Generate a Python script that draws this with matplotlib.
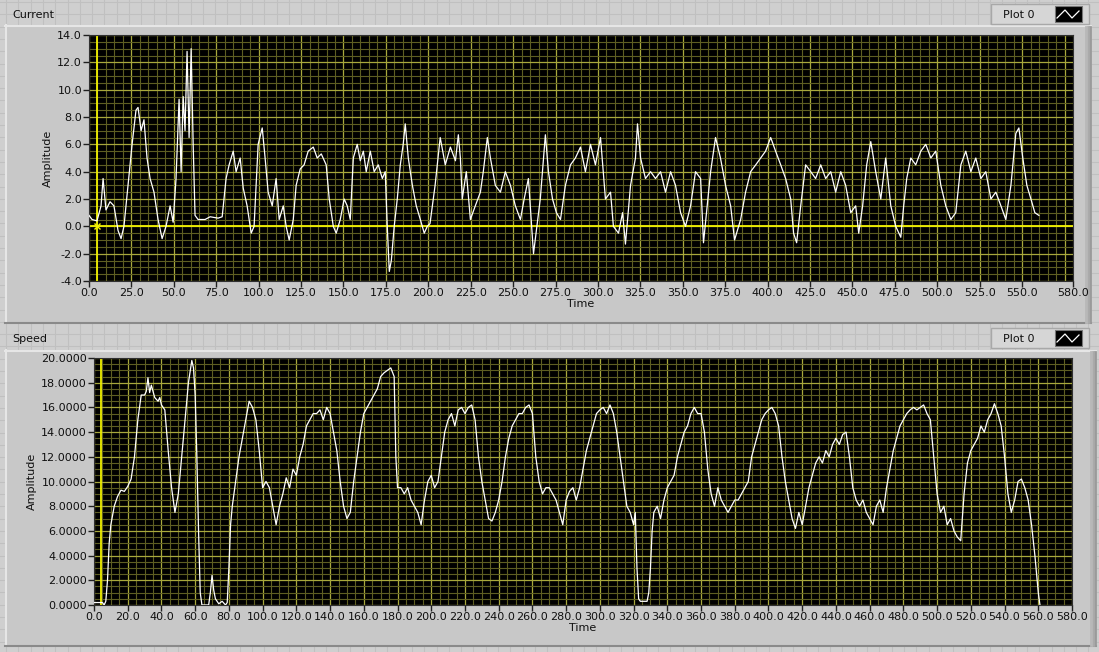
import matplotlib
matplotlib.use("Agg")
import matplotlib.pyplot as plt
import numpy as np
from matplotlib.patches import Rectangle
from matplotlib.ticker import FixedLocator, FormatStrFormatter, NullLocator

# ---------------- data ----------------
current_time = [0, 1.8, 4.7, 7.1, 8.3, 10, 12.4, 14.7, 17.1, 18.9, 20.6, 23, 25.4, 27.7, 28.9, 30.7, 32.4,
                34.2, 36, 38.3, 40.7, 43.1, 45.4, 47.8, 49.6, 51.3, 53.1, 54.3, 55.5, 56.6, 57.8, 59, 60.2,
                61.4, 62.5, 64.3, 68.4, 71.4, 76.1, 78.5, 80.8, 82.6, 85, 86.7, 89.1, 90.9, 93.2, 95.6, 97.3,
                99.7, 102.1, 103.8, 105.6, 108, 110.3, 112.1, 114.5, 116.2, 118, 120.4, 122.1, 124.5, 126.8,
                129.2, 132.2, 134.5, 136.9, 139.8, 141.6, 144, 145.7, 148.1, 150.4, 152.2, 154, 155.8, 158.1,
                159.9, 161.7, 163.4, 165.8, 168.1, 170.5, 172.9, 174.6, 175.8, 177, 178.2, 179.9, 181.7,
                183.5, 185.2, 186.4, 188.2, 190.6, 192.9, 195.3, 197.6, 199.4, 201, 204, 207, 210, 213, 216,
                217.7, 218.9, 220, 222.4, 224.8, 227.7, 230.7, 232.4, 234.8, 236.6, 239.5, 242.5, 245.4,
                248.4, 251.3, 254.3, 256.5, 259, 262, 266, 269, 270.8, 273.2, 275.5, 277.9, 280.8, 283.8,
                286.7, 289.7, 292.6, 295.6, 298.5, 301.5, 304.4, 307.4, 309.1, 312.1, 314.5, 316.2, 319.2,
                322.1, 323.3, 325.1, 328, 331, 333.9, 336.9, 339.8, 342.8, 345.7, 348.7, 351.6, 354.6, 357.5,
                360.5, 362.2, 366.4, 369.3, 372.2, 375.2, 378.2, 380.5, 384.1, 387, 390, 393, 395.9, 398.8,
                401.8, 404.7, 407.7, 410.6, 413.6, 415.3, 417.1, 419.5, 422.4, 425.4, 428.3, 431.3, 434.2,
                437.2, 440.1, 443.1, 446, 449, 451.9, 453.7, 456, 458.4, 460.8, 463.7, 466.7, 469.6, 472.6,
                475.5, 478.5, 480.2, 482, 484.4, 487.3, 490.3, 493.2, 496.2, 499.1, 502.1, 505, 508, 510.9,
                513.9, 516.8, 519.8, 522.7, 525.7, 528.6, 531.6, 534.5, 537.5, 540.4, 543.4, 546.3, 548.1,
                550.4, 552.8, 555.2, 557.5, 559.9]
current_amp = [0.8, 0.5, 0.4, 1.5, 3.5, 1.2, 1.8, 1.5, -0.3, -0.9, 0.0, 3.0, 6.0, 8.5, 8.7, 7.0, 7.8,
               5.0, 3.5, 2.5, 0.5, -0.9, 0.0, 1.5, 0.3, 3.5, 9.3, 4.0, 9.5, 7.0, 12.8, 6.5, 13.0,
               6.0, 0.8, 0.5, 0.5, 0.7, 0.6, 0.7, 3.5, 4.5, 5.5, 4.0, 5.0, 2.8, 1.5, -0.5, 0.0,
               6.0, 7.2, 5.0, 2.5, 1.5, 3.5, 0.5, 1.5, 0.0, -1.0, 0.5, 3.0, 4.2, 4.5,
               5.5, 5.8, 5.0, 5.3, 4.5, 2.0, 0.0, -0.5, 0.5, 2.0, 1.5, 0.5, 5.0, 6.0,
               4.8, 5.5, 4.0, 5.5, 4.0, 4.5, 3.5, 4.0, 0.0, -3.3, -2.5, 0.0, 2.0,
               4.5, 6.0, 7.5, 5.0, 3.0, 1.5, 0.5, -0.5, 0.0, 0.2, 3.0, 6.5, 4.5, 5.8, 4.8,
               6.7, 5.0, 2.0, 4.0, 0.5, 1.5, 2.5, 4.0, 6.5, 5.0, 3.0, 2.5, 4.0,
               3.0, 1.5, 0.5, 2.0, 3.5, -2.0, 2.0, 6.7, 4.0, 2.0, 1.0, 0.5, 3.0, 4.5,
               5.0, 5.8, 4.0, 6.0, 4.5, 6.5, 2.0, 2.5, 0.0, -0.5, 1.0, -1.3, 3.0,
               5.0, 7.5, 5.0, 3.5, 4.0, 3.5, 4.0, 2.5, 4.0, 3.0, 1.0, 0.0, 1.5, 4.0,
               3.5, -1.2, 4.0, 6.5, 5.0, 3.0, 1.5, -1.0, 0.5, 2.5, 4.0, 4.5, 5.0, 5.5,
               6.5, 5.5, 4.5, 3.5, 2.0, -0.5, -1.2, 1.5, 4.5, 4.0, 3.5, 4.5, 3.5,
               4.0, 2.5, 4.0, 3.0, 1.0, 1.5, -0.5, 1.5, 4.5, 6.2, 4.0, 2.0, 5.0, 1.5,
               0.0, -0.8, 1.5, 3.5, 5.0, 4.5, 5.5, 6.0, 5.0, 5.5, 3.0, 1.5, 0.5, 1.0,
               4.5, 5.5, 4.0, 5.0, 3.5, 4.0, 2.0, 2.5, 1.5, 0.5, 3.0, 6.8, 7.2,
               5.0, 3.0, 2.0, 1.0, 0.8]

speed_time = [0, 5, 6, 7, 8, 9, 10, 12, 14, 16, 18, 20, 22, 24, 26, 28, 30, 31, 32, 33, 34, 36, 38, 39, 40,
              42, 44, 46, 48, 50, 52, 54, 56, 58, 59, 60, 61, 62, 63, 64, 68, 69, 70, 71, 72, 74, 76, 78,
              79, 80, 81, 82, 84, 86, 88, 90, 92, 94, 96, 98, 100, 102, 104, 106, 108, 110, 112, 114,
              116, 118, 120, 122, 124, 126, 128, 130, 132, 134, 136, 138, 140, 142, 144, 146, 148, 150,
              152, 154, 156, 158, 160, 162, 164, 166, 168, 170, 172, 174, 176, 178, 179, 180, 182, 184,
              186, 188, 190, 192, 194, 196, 198, 200, 202, 204, 206, 208, 210, 212, 214, 216, 218, 220,
              222, 224, 226, 228, 230, 232, 234, 236, 238, 240, 242, 244, 246, 248, 250, 252, 254, 256,
              258, 260, 262, 264, 266, 268, 270, 272, 274, 276, 278, 280, 282, 284, 286, 288, 290, 292,
              294, 296, 298, 300, 302, 304, 306, 308, 310, 312, 314, 316, 318, 320, 321, 322, 323, 324,
              328, 329, 330, 331, 332, 334, 336, 338, 340, 342, 344, 346, 348, 350, 352, 354, 356, 358,
              360, 362, 364, 366, 368, 370, 372, 374, 376, 378, 380, 382, 384, 386, 388, 390, 392, 394,
              396, 398, 400, 402, 404, 406, 408, 410, 412, 414, 416, 418, 420, 422, 424, 426, 428, 430,
              432, 434, 436, 438, 440, 442, 444, 446, 448, 450, 452, 454, 456, 458, 460, 462, 464, 466,
              468, 470, 472, 474, 476, 478, 480, 482, 484, 486, 488, 490, 492, 494, 496, 498, 500, 502,
              504, 506, 508, 510, 512, 514, 516, 518, 520, 522, 524, 526, 528, 530, 532, 534, 536, 538,
              540, 542, 544, 546, 548, 550, 552, 554, 556, 558, 560, 561]
speed_amp = [0.2, 0.2, 0.0, 0.3, 2.0, 5.0, 6.5, 8.0, 8.8, 9.3, 9.2, 9.6, 10.2, 12.0, 15.0, 17.0, 17.0, 17.3,
             18.4, 17.2, 17.8, 16.8, 16.5, 16.8, 16.2,
             15.8, 12.5, 9.5, 7.5, 9.0, 12.0, 15.0, 18.0, 19.8, 19.2, 17.0, 12.0, 6.0, 1.0, 0.0, 0.0, 1.0,
             2.4, 1.2, 0.5, 0.1, 0.3, 0.0,
             0.2, 3.0, 6.5, 8.0, 10.0, 12.0, 13.5, 15.0, 16.5, 16.0, 15.0, 12.5, 9.5, 10.0, 9.5, 8.0, 6.5,
             8.0, 9.0, 10.3,
             9.5, 11.0, 10.5, 12.0, 13.0, 14.5, 15.0, 15.5, 15.5, 15.8, 15.0, 16.0, 15.5, 14.0, 12.5, 10.0,
             8.0, 7.0,
             7.5, 10.0, 12.0, 14.0, 15.5, 16.0, 16.5, 17.0, 17.5, 18.5, 18.8, 19.0, 19.2, 18.5, 12.0, 9.5,
             9.5, 9.0,
             9.5, 8.5, 8.0, 7.5, 6.5, 8.5, 10.0, 10.5, 9.5, 10.0, 12.0, 14.0, 15.0, 15.5, 14.5, 15.8, 16.0,
             15.5,
             16.0, 16.2, 15.0, 12.0, 10.0, 8.5, 7.0, 6.8, 7.5, 8.5, 10.0, 12.0, 13.5, 14.5, 15.0, 15.5,
             15.5, 16.0,
             16.2, 15.5, 12.0, 10.0, 9.0, 9.5, 9.5, 9.0, 8.5, 7.5, 6.5, 8.5, 9.2, 9.5, 8.5, 9.5, 11.0,
             12.5,
             13.5, 14.5, 15.5, 15.8, 16.0, 15.5, 16.2, 15.5, 14.0, 12.0, 10.0, 8.0, 7.5, 6.5, 7.5, 3.0,
             0.5, 0.3,
             0.3, 1.0, 3.0, 6.0, 7.5, 8.0, 7.0, 8.5, 9.5, 10.0, 10.5, 12.0, 13.0, 14.0, 14.5, 15.5, 16.0,
             15.5,
             15.5, 14.0, 11.0, 9.0, 8.0, 9.5, 8.5, 8.0, 7.5, 8.0, 8.5, 8.5, 9.0, 9.5, 10.0, 12.0, 13.0,
             14.0,
             15.0, 15.5, 15.8, 16.0, 15.5, 14.5, 12.0, 10.0, 8.5, 7.0, 6.2, 7.5, 6.5, 8.0, 9.5, 10.5, 11.5,
             12.0,
             11.5, 12.5, 12.0, 13.0, 13.5, 13.0, 13.8, 14.0, 12.0, 9.5, 8.5, 8.0, 8.5, 7.5, 7.0, 6.5, 8.0,
             8.5,
             7.5, 9.5, 11.0, 12.5, 13.5, 14.5, 15.0, 15.5, 15.8, 16.0, 15.8, 16.0, 16.2, 15.5, 15.0, 12.0,
             9.0, 7.5,
             8.0, 6.5, 7.0, 6.0, 5.5, 5.2, 9.0, 11.5, 12.5, 13.0, 13.5, 14.5, 14.0, 15.0, 15.5, 16.3, 15.5,
             14.5,
             12.0, 9.0, 7.5, 8.5, 10.0, 10.2, 9.5, 8.5, 6.5, 4.0, 1.0, 0.0]

current_yticks = [-4, -2, 0, 2, 4, 6, 8, 10, 12, 14]
current_xticks = [0, 25, 50, 75, 100, 125, 150, 175, 200, 225, 250, 275, 300, 325, 350, 375, 400,
                  425, 450, 475, 500, 525, 550, 580]
speed_yticks = [0, 2, 4, 6, 8, 10, 12, 14, 16, 18, 20]
speed_xticks = list(range(0, 581, 20))

# ---------------- layout ----------------
W, H = 1099, 652
fig = plt.figure(figsize=(W / 100, H / 100), dpi=100)
fig.patch.set_facecolor('#cfcfcf')
FONT = 'DejaVu Sans'

bg = fig.add_axes([0, 0, 1, 1], zorder=0)
bg.set_xlim(0, W)
bg.set_ylim(H, 0)
bg.axis('off')
bg.set_facecolor('#cfcfcf')

# front-panel grid pattern
for gx in np.arange(6, W, 12.3):
    bg.plot([gx, gx], [0, H], color='#c0c0c0', lw=0.8, zorder=0)
for gy in np.arange(2, H, 12.3):
    bg.plot([0, W], [gy, gy], color='#c0c0c0', lw=0.8, zorder=0)


def panel(x0, y0, x1, y1):
    bg.add_patch(Rectangle((x0, y0), x1 - x0, y1 - y0, facecolor='#c8c8c8', edgecolor='none', zorder=1))
    bg.plot([x0, x1], [y0 + 0.5, y0 + 0.5], color='#e6e6e6', lw=1.5, zorder=2)
    bg.plot([x0 + 0.5, x0 + 0.5], [y0, y1], color='#e6e6e6', lw=1.5, zorder=2)
    bg.plot([x0, x1], [y1 - 0.5, y1 - 0.5], color='#8a8a8a', lw=1.5, zorder=2)
    for i, c in enumerate(['#9a9a9a', '#aaaaaa', '#b8b8b8']):
        bg.plot([x1 - 1 - 2 * i, x1 - 1 - 2 * i], [y0 + 2, y1 - 1], color=c, lw=2, zorder=2)


def legend_box(x0, y0):
    bg.add_patch(Rectangle((x0, y0), 98, 20, facecolor='#d6d6d6', edgecolor='#a8a8a8', lw=1, zorder=3))
    bg.text(x0 + 28, y0 + 10.5, 'Plot 0', fontsize=8, family=FONT, color='#101010', va='center',
            ha='center', zorder=4)
    bg.add_patch(Rectangle((x0 + 64, y0 + 2), 27, 16, facecolor='black', edgecolor='#777777', lw=0.8,
                           zorder=4))
    bg.plot([x0 + 66, x0 + 74, x0 + 81, x0 + 88], [y0 + 14, y0 + 6, y0 + 14, y0 + 7], color='white',
            lw=0.9, zorder=5)


panel(5, 25, 1091, 323)
panel(5, 350, 1096, 646)
legend_box(991, 4)
legend_box(991, 328)
bg.text(12, 15, 'Current', fontsize=8, family=FONT, color='#101010', va='center', ha='left', zorder=4)
bg.text(12, 339, 'Speed', fontsize=8, family=FONT, color='#101010', va='center', ha='left', zorder=4)

MAJOR = '#a8a83c'
MINOR = '#5e5e22'
CURSOR = '#f2f200'


def style_axes(ax, xlim, ylim, xticks, yticks, xmaj, xmin, ymaj, ymin, yfmt):
    ax.set_facecolor('black')
    ax.set_xlim(*xlim)
    ax.set_ylim(*ylim)
    for v in np.arange(xlim[0], xlim[1] + 1e-9, xmin):
        on_major = abs(v / xmaj - round(v / xmaj)) < 1e-6
        ax.axvline(v, color=MAJOR if on_major else MINOR, lw=0.9 if on_major else 0.8, zorder=1)
    for v in np.arange(ylim[0], ylim[1] + 1e-9, ymin):
        on_major = abs(v / ymaj - round(v / ymaj)) < 1e-6
        ax.axhline(v, color=MAJOR if on_major else MINOR, lw=0.9 if on_major else 0.8, zorder=1)
    ax.xaxis.set_major_locator(FixedLocator(xticks))
    ax.yaxis.set_major_locator(FixedLocator(yticks))
    ax.xaxis.set_minor_locator(NullLocator())
    ax.yaxis.set_minor_locator(NullLocator())
    ax.xaxis.set_major_formatter(FormatStrFormatter('%.1f'))
    ax.yaxis.set_major_formatter(FormatStrFormatter(yfmt))
    ax.tick_params(direction='out', length=4, width=1, color='#202020', labelsize=8,
                   labelcolor='#101010', pad=1)
    for lbl in ax.get_xticklabels() + ax.get_yticklabels():
        lbl.set_family(FONT)
    for s in ax.spines.values():
        s.set_color('#303030')
        s.set_linewidth(0.8)
    ax.set_xlabel('Time', fontsize=8, family=FONT, color='#101010', labelpad=1)
    ax.set_ylabel('Amplitude', fontsize=8, family=FONT, color='#101010', labelpad=3)


def frac(x0, y0, x1, y1):
    return [x0 / W, 1 - y1 / H, (x1 - x0) / W, (y1 - y0) / H]


ax1 = fig.add_axes(frac(89, 35, 1073, 281), zorder=2)
style_axes(ax1, (0, 580), (-4, 14), current_xticks, current_yticks, 25, 5, 2, 0.5, '%.1f')
ax1.axvline(5, color=CURSOR, lw=1.3, zorder=2)
ax1.axhline(0, color=CURSOR, lw=1.3, zorder=2)
ax1.plot(current_time, current_amp, color='white', lw=0.9, zorder=3)
ax1.plot([5], [0], marker='x', color=CURSOR, ms=4, mew=1, zorder=4)

ax2 = fig.add_axes(frac(94, 358, 1072, 605), zorder=2)
style_axes(ax2, (0, 580), (0, 20), speed_xticks, speed_yticks, 20, 5, 2, 0.5, '%.4f')
ax2.axvline(4, color=CURSOR, lw=1.3, zorder=2)
ax2.plot(speed_time, speed_amp, color='white', lw=0.9, zorder=3)

fig.savefig('out.png', dpi=100, facecolor=fig.get_facecolor())
